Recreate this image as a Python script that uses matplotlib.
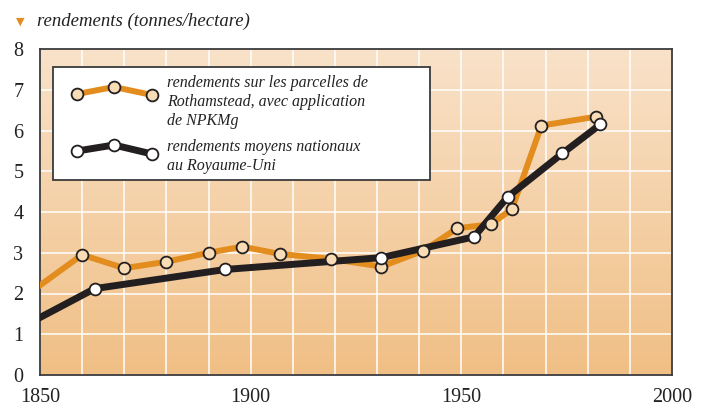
import matplotlib.pyplot as plt
import matplotlib.patches as patches
from matplotlib.colors import LinearSegmentedColormap
import numpy as np

plt.rcParams.update({'font.family': ['Liberation Serif', 'DejaVu Serif']})

# Rothamstead plots with NPKMg
rot_years = [1850, 1860, 1870, 1880, 1890, 1898, 1907, 1919, 1931, 1941, 1949, 1957, 1962, 1969, 1982]
rot_yield = [2.2, 2.95, 2.62, 2.78, 3.0, 3.15, 2.97, 2.85, 2.66, 3.05, 3.6, 3.7, 4.07, 6.12, 6.34]

# UK national average
uk_years = [1850, 1863, 1894, 1931, 1953, 1961, 1974, 1983]
uk_yield = [1.41, 2.12, 2.59, 2.88, 3.39, 4.37, 5.44, 6.15]

x_ticks = [1850, 1900, 1950, 2000]
y_ticks = [0, 1, 2, 3, 4, 5, 6, 7, 8]
title = 'rendements (tonnes/hectare)'
label_rot = 'rendements sur les parcelles de\nRothamstead, avec application\nde NPKMg'
label_uk = 'rendements moyens nationaux\nau Royaume-Uni'

ORANGE = '#e38d1f'
BLACK = '#231f20'
DARK = '#3a3a3a'

fig = plt.figure(figsize=(7.06, 4.05), dpi=100)
ax = fig.add_axes([40 / 706, 30 / 405, 632 / 706, 326 / 405])

# background gradient, light at top, deeper orange at bottom
cmap = LinearSegmentedColormap.from_list('bg', ['#f9e2c9', '#f0bf85'])
grad = np.linspace(0, 1, 256).reshape(-1, 1)
ax.imshow(grad, cmap=cmap, aspect='auto', extent=[0, 1, 0, 1],
          transform=ax.transAxes, zorder=-1)

ax.set_xlim(1850, 2000)
ax.set_ylim(0, 8)
ax.set_xticks(np.arange(1850, 2001, 10), minor=True)
ax.set_xticks(x_ticks)
ax.set_yticks(y_ticks)
ax.grid(True, which='both', color='white', lw=1.1)
ax.set_axisbelow(True)
ax.tick_params(which='both', length=0, labelsize=14.5, colors='#222222')
ax.tick_params(axis='x', pad=9)
ax.tick_params(axis='y', pad=12)
for s in ax.spines.values():
    s.set_color(DARK)
    s.set_linewidth(1.3)

# lines
ax.plot(rot_years, rot_yield, color=ORANGE, lw=4.3, zorder=3)
ax.plot(uk_years, uk_yield, color=BLACK, lw=5, zorder=3.5)
ax.plot(rot_years[1:], rot_yield[1:], ls='none', marker='o', ms=8.5,
        mfc='#f8dcb6', mec=BLACK, mew=1.3, zorder=4)
ax.plot(uk_years[1:], uk_yield[1:], ls='none', marker='o', ms=8.5,
        mfc='white', mec=BLACK, mew=1.3, zorder=4.5)

# legend box drawn by hand
def px(x, y):
    return ((x - 40) / 632, (375 - y) / 326)

x0, y0 = px(53, 180)
x1, y1 = px(430, 67)
box = patches.Rectangle((x0, y0), x1 - x0, y1 - y0, transform=ax.transAxes,
                        facecolor='white', edgecolor=DARK, lw=1.3, zorder=6)
ax.add_patch(box)

samples = [
    ([77, 114, 152], [94, 87, 95], ORANGE, '#f8dcb6', 4.3, label_rot, 84),
    ([77, 114, 152], [151, 145, 154], BLACK, 'white', 5, label_uk, 148),
]
for xs, ys, col, face, lw, text, ty in samples:
    pts = [px(a, b) for a, b in zip(xs, ys)]
    ax.plot([p[0] for p in pts], [p[1] for p in pts], transform=ax.transAxes,
            color=col, lw=lw, marker='o', ms=8.5, mfc=face, mec=BLACK, mew=1.3,
            zorder=7, clip_on=False)
    tx, tyy = px(167, ty - 9)
    ax.text(tx, tyy, text, transform=ax.transAxes, ha='left', va='top',
            fontsize=11.5, style='italic', color='#222222', linespacing=1.25,
            zorder=7)

# title with triangle
fig.text(20 / 706, 1 - 22 / 405, '\u25BC', color=ORANGE, fontsize=8,
         ha='center', va='center', family='DejaVu Sans')
fig.text(37 / 706, 1 - 21 / 405, title, fontsize=13.5, style='italic',
         color='#222222', ha='left', va='center')

fig.savefig('out.png', dpi=100)
